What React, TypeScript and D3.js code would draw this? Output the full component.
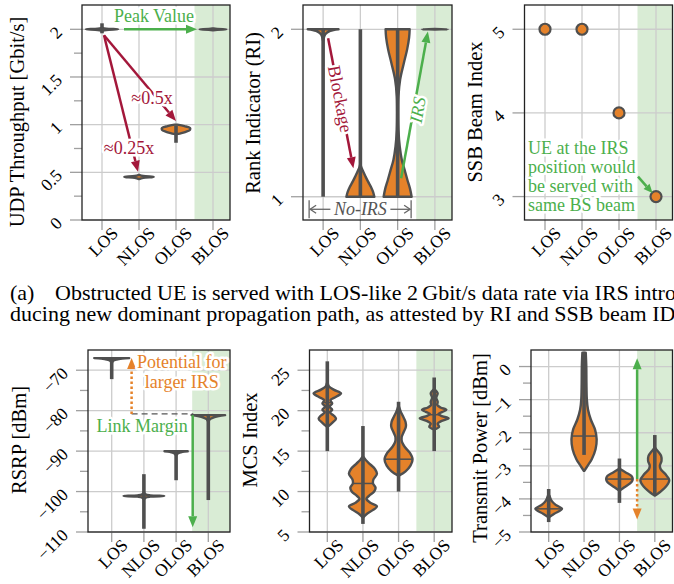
import React from "react";
import * as d3 from "d3";

const WIDTH = 674;
const HEIGHT = 584;
const SERIF = "'Liberation Serif', 'Times New Roman', Times, serif";

const ORANGE = "#e5822a";
const DARK = "#4f4f4f";
const GREEN = "#4caf4c";
const GREEN_BG = "#d9ecd5";
const CRIMSON = "#a3173a";
const GRID = "#cccccc";
const TICK = "#a0a0a0";

const CATEGORIES = ["LOS", "NLOS", "OLOS", "BLOS"];

// violin outlines: [value, relative half width]
const udpProfiles = [
  [[1.985, 0], [1.993, 0.3], [2.0, 1.15], [2.007, 0.3], [2.015, 0]],
  [[0.43, 0], [0.442, 0.3], [0.452, 1.05], [0.462, 0.3], [0.474, 0]],
  [[0.9, 0.05], [0.925, 0.7], [0.945, 1.0], [0.965, 1.0], [0.985, 0.6], [1.0, 0.1]],
  [[1.99, 0], [1.996, 0.3], [2.0, 0.95], [2.004, 0.3], [2.01, 0]],
];
const udpWhiskers = [[1.958, 2.063], null, [0.81, 0.99], [1.985, 2.015]];

const riProfiles = [
  [[1.93, 0], [1.97, 0.15], [1.99, 0.5], [2.0, 1.1]],
  [[1.0, 1.0], [1.03, 0.9], [1.06, 0.75], [1.09, 0.55], [1.12, 0.37], [1.15, 0.2], [1.18, 0.05], [1.2, 0]],
  [[1.0, 1.0], [1.05, 0.88], [1.1, 0.7], [1.16, 0.5], [1.22, 0.3], [1.3, 0.15], [1.4, 0.06], [1.5, 0.04],
    [1.6, 0.06], [1.7, 0.18], [1.8, 0.45], [1.88, 0.68], [1.95, 0.82], [2.0, 0.86]],
  [[1.998, 0], [2.0, 0.93], [2.002, 0]],
];
const riWhiskers = [[1, 2], [1, 2], [1, 2], null];

const ssbBeam = [5, 5, 4, 3];

const rsrpProfiles = [
  [[-68.2, 0.02], [-67.7, 0.1], [-67.35, 0.35], [-67.12, 0.75], [-67.0, 1.25]],
  [[-101.9, 0.02], [-101.5, 0.12], [-101.25, 0.45], [-101.1, 1.45], [-100.95, 0.45], [-100.7, 0.12], [-100.3, 0.02]],
  [[-91.0, 0.02], [-90.5, 0.15], [-90.2, 0.45], [-90.05, 0.83]],
  [[-82.6, 0.02], [-82.1, 0.12], [-81.7, 0.35], [-81.35, 0.75], [-81.1, 1.2]],
];
const rsrpWhiskers = [[-72.2, -67], [-109.2, -95.7], [-97.2, -90], [-102.1, -81.1]];

const mcsProfiles = [
  [[18.0, 0.02], [18.5, 0.35], [19.0, 0.62], [19.4, 0.45], [19.8, 0.18], [20.1, 0.35], [20.5, 0.15], [20.9, 0.35],
    [21.3, 0.22], [21.7, 0.6], [22.15, 0.98], [22.6, 0.45], [23.0, 0.12], [23.4, 0.03]],
  [[6.8, 0.02], [7.2, 0.25], [7.7, 0.7], [8.15, 1.0], [8.6, 0.55], [9.1, 0.25], [9.5, 0.45], [10.0, 0.8], [10.5, 0.9],
    [11.0, 0.72], [11.5, 0.75], [12.2, 1.0], [12.8, 0.85], [13.4, 0.5], [13.9, 0.2], [14.3, 0.02]],
  [[12.0, 0.05], [12.5, 0.5], [13.2, 0.85], [14.0, 1.0], [14.8, 0.8], [15.5, 0.45], [16.1, 0.25], [16.7, 0.22],
    [17.3, 0.35], [18.0, 0.52], [18.6, 0.5], [19.3, 0.32], [19.9, 0.15], [20.5, 0.03]],
  [[17.7, 0.02], [18.0, 0.35], [18.4, 0.25], [18.7, 0.5], [19.05, 1.03], [19.35, 0.5], [19.6, 0.3], [19.85, 0.6],
    [20.1, 0.87], [20.4, 0.45], [20.7, 0.22], [21.1, 0.25], [21.6, 0.15], [22.15, 0.25], [22.6, 0.05]],
];
const mcsWhiskers = [[15, 26.1], [6.0, 18.1], [10, 21.1], [15, 24.1]];
const mcsMedians = [21, 11, 14, 19.5];

const txProfiles = [
  [[-4.55, 0.02], [-4.45, 0.4], [-4.3, 0.95], [-4.18, 0.5], [-4.05, 0.2], [-3.9, 0.05]],
  [[-3.15, 0.02], [-3.0, 0.25], [-2.8, 0.55], [-2.5, 0.82], [-2.2, 0.9], [-1.9, 0.78], [-1.6, 0.48], [-1.3, 0.28],
    [-1.0, 0.2], [-0.5, 0.17], [0.0, 0.16], [0.42, 0.12]],
  [[-3.75, 0.02], [-3.65, 0.35], [-3.5, 0.85], [-3.4, 0.95], [-3.3, 0.85], [-3.2, 0.45], [-3.1, 0.05]],
  [[-3.9, 0.02], [-3.8, 0.35], [-3.6, 0.85], [-3.43, 1.03], [-3.25, 0.75], [-3.1, 0.42], [-3.0, 0.36], [-2.85, 0.48],
    [-2.7, 0.45], [-2.55, 0.2], [-2.45, 0.02]],
];
const txWhiskers = [[-4.7, -3.7], [-2.67, 0.4], [-4.12, -2.78], [-3.9, -2.07]];
const txMedians = [-4.3, -2.1, -3.4, -3.4];

const CAPTION_1A = "(a)";
const CAPTION_1B = "Obstructed UE is served with LOS-like 2\u2009Gbit/s data rate via IRS intro-";
const CAPTION_2 = "ducing new dominant propagation path, as attested by RI and SSB beam IDs.";

const fmt = d3.format("");

function Arrow({ x1, y1, x2, y2, color, width = 2.5, dash, head = 11, headW = 9 }: any) {
  const a = Math.atan2(y2 - y1, x2 - x1);
  const bx = x2 - head * Math.cos(a);
  const by = y2 - head * Math.sin(a);
  const px = (-Math.sin(a) * headW) / 2;
  const py = (Math.cos(a) * headW) / 2;
  return (
    <g>
      <line x1={x1} y1={y1} x2={bx} y2={by} stroke={color} strokeWidth={width} strokeDasharray={dash} />
      <polygon points={`${x2},${y2} ${bx + px},${by + py} ${bx - px},${by - py}`} fill={color} />
    </g>
  );
}

function Halo({ children, ...rest }: any) {
  return (
    <text stroke="white" strokeWidth={5} strokeLinejoin="round" paintOrder="stroke" fontSize={18} {...rest}>
      {children}
    </text>
  );
}

function Violin({ cx, y, hw, profile, whisker, median }: any) {
  const shape = d3
    .area<number[]>()
    .y((d) => y(d[0]))
    .x0((d) => cx - hw(d[1]))
    .x1((d) => cx + hw(d[1]))
    .curve(d3.curveCatmullRom.alpha(0.5));
  let mw = 0;
  if (median != null) {
    for (let i = 1; i < profile.length; i++) {
      const [a, wa] = profile[i - 1];
      const [b, wb] = profile[i];
      if (median >= a && median <= b) {
        mw = wa + ((wb - wa) * (median - a)) / (b - a || 1);
        break;
      }
    }
  }
  return (
    <g>
      <path d={shape(profile) || ""} fill={ORANGE} stroke={DARK} strokeWidth={2.4} strokeLinejoin="round" />
      {whisker && (
        <line x1={cx} x2={cx} y1={y(whisker[0])} y2={y(whisker[1])} stroke={DARK} strokeWidth={3.6} />
      )}
      {median != null && (
        <line x1={cx - hw(mw)} x2={cx + hw(mw)} y1={y(median)} y2={y(median)} stroke={DARK} strokeWidth={1.5} />
      )}
    </g>
  );
}

function Panel({ spec, render }: any) {
  const { left, right, top, bottom, domain, pad, shift, ticks, minor, label, labelX, labelY } = spec;
  const x = d3.scalePoint<string>().domain(CATEGORIES).range([left + shift, right + shift]).padding(pad);
  const y = d3.scaleLinear().domain(domain).range([bottom, top]);
  const hw = d3.scaleLinear().domain([0, 1]).range([0, 14]);
  const shadeX = ((x("OLOS") as number) + (x("BLOS") as number)) / 2;
  return (
    <g>
      <rect x={shadeX} y={top} width={right - shadeX} height={bottom - top} fill={GREEN_BG} />
      {CATEGORIES.map((c) => (
        <g key={c}>
          <line x1={x(c)} x2={x(c)} y1={top} y2={bottom} stroke={GRID} strokeWidth={1.3} />
          <line x1={x(c)} x2={x(c)} y1={bottom} y2={bottom + 10} stroke={TICK} strokeWidth={1.3} />
          <text
            transform={`translate(${(x(c) as number) + 13},${bottom + 10}) rotate(-45)`}
            textAnchor="end"
            dominantBaseline="central"
            fontSize={17.5}
          >
            {c}
          </text>
        </g>
      ))}
      {ticks.map((t: number) => (
        <g key={t}>
          <line x1={left} x2={right} y1={y(t)} y2={y(t)} stroke={GRID} strokeWidth={1.3} />
          <line x1={left - 12} x2={left} y1={y(t)} y2={y(t)} stroke={TICK} strokeWidth={1.3} />
          <text
            transform={`translate(${left - 23},${y(t)}) rotate(-45)`}
            textAnchor="end"
            dominantBaseline="central"
            fontSize={17.5}
          >
            {fmt(t)}
          </text>
        </g>
      ))}
      {minor.map((t: number) => (
        <line key={t} x1={left - 8} x2={left} y1={y(t)} y2={y(t)} stroke={TICK} strokeWidth={1.3} />
      ))}
      <rect x={left} y={top} width={right - left} height={bottom - top} fill="none" stroke="#222" strokeWidth={1.3} />
      <text
        transform={`translate(${labelX},${labelY}) rotate(-90)`}
        textAnchor="middle"
        dominantBaseline="central"
        fontSize={20.5}
      >
        {label}
      </text>
      {render(x, y, hw)}
    </g>
  );
}

const SPECS = {
  udp: { left: 82, right: 230, top: 5, bottom: 220, domain: [0, 2.255], pad: 0.5, shift: 1.5,
    ticks: [0, 0.5, 1, 1.5, 2], minor: [0.25, 0.75, 1.25, 1.75], label: "UDP Throughput [Gbit/s]", labelX: 17, labelY: 122 },
  ri: { left: 303, right: 452, top: 5, bottom: 220, domain: [0.861, 2.145], pad: 0.5, shift: 1.5,
    ticks: [1, 2], minor: [], label: "Rank Indicator (RI)", labelX: 253, labelY: 113 },
  ssb: { left: 524.5, right: 672.5, top: 5, bottom: 220, domain: [2.72, 5.29], pad: 0.5, shift: 2,
    ticks: [3, 4, 5], minor: [], label: "SSB Beam Index", labelX: 475, labelY: 112 },
  rsrp: { left: 88, right: 230, top: 350, bottom: 532, domain: [-110, -65], pad: 0.705, shift: 1,
    ticks: [-110, -100, -90, -80, -70], minor: [-105, -95, -85, -75], label: "RSRP [dBm]", labelX: 18.5, labelY: 440 },
  mcs: { left: 309.5, right: 452, top: 350, bottom: 532, domain: [5, 27.5], pad: 0.5, shift: 0,
    ticks: [5, 10, 15, 20, 25], minor: [7.5, 12.5, 17.5, 22.5], label: "MCS Index", labelX: 250, labelY: 440 },
  tx: { left: 531, right: 672.5, top: 350, bottom: 532, domain: [-5, 0.5], pad: 0.5, shift: 0,
    ticks: [-5, -4, -3, -2, -1, 0], minor: [-4.5, -3.5, -2.5, -1.5, -0.5], label: "Transmit Power [dBm]", labelX: 479.5, labelY: 448 },
};

function violins(profiles: any[], whiskers: any[], medians: any[] | null) {
  return (x: any, y: any, hw: any) =>
    CATEGORIES.map((c, i) => (
      <Violin key={c} cx={x(c)} y={y} hw={hw} profile={profiles[i]} whisker={whiskers[i]}
        median={medians ? medians[i] : null} />
    ));
}

export default function App() {
  return (
    <svg width={WIDTH} height={HEIGHT} fontFamily={SERIF}
      style={{ position: "absolute", left: 0, top: 0, background: "white" }}>
      <Panel
        spec={SPECS.udp}
        render={(x: any, y: any, hw: any) => (
          <g>
            {violins(udpProfiles, udpWhiskers, null)(x, y, hw)}
            <Arrow x1={x("LOS") + 22} y1={y(2)} x2={x("BLOS") - 16} y2={y(2)} color={GREEN} />
            <Halo x={x("NLOS") + 15} y={y(2) - 7} textAnchor="middle" fill={GREEN}>Peak Value</Halo>
            <Arrow x1={x("LOS") + 2} y1={y(2) + 6} x2={x("NLOS") - 1} y2={y(0.454) - 5} color={CRIMSON} />
            <Arrow x1={x("LOS") + 2} y1={y(2) + 6} x2={x("OLOS")} y2={y(0.955) - 8} color={CRIMSON} />
            <Halo x={x("NLOS") + 13} y={y(1.276)} textAnchor="middle" dominantBaseline="central" fill={CRIMSON}>≈0.5x</Halo>
            <Halo x={x("LOS") + 27} y={y(0.76)} textAnchor="middle" dominantBaseline="central" fill={CRIMSON}>≈0.25x</Halo>
          </g>
        )}
      />
      <Panel
        spec={SPECS.ri}
        render={(x: any, y: any, hw: any) => {
          const by = y(0.925);
          const bl = x("LOS") - 14;
          const br = x("OLOS") + 13.5;
          const cm = x("NLOS");
          return (
            <g>
              {violins(riProfiles, riWhiskers, null)(x, y, hw)}
              <Arrow x1={x("LOS") + 5} y1={y(2) + 9} x2={x("NLOS") - 7} y2={y(1.17)} color={CRIMSON} />
              <Halo transform={`translate(${x("LOS") + 17},${y(1.584)}) rotate(79)`} textAnchor="middle"
                dominantBaseline="central" fill={CRIMSON}>Blockage</Halo>
              <Arrow x1={x("OLOS") + 3.5} y1={y(1.11)} x2={x("BLOS") - 7} y2={y(1.986)} color={GREEN} />
              <Halo transform={`translate(${(x("OLOS") + x("BLOS")) / 2 + 1.5},${y(1.518)}) rotate(-80)`}
                textAnchor="middle" dominantBaseline="central" fill={GREEN} fontStyle="italic">IRS</Halo>
              <g stroke="#666" strokeWidth={1.3} fill="none">
                <line x1={bl} x2={bl} y1={by - 9} y2={by + 9} />
                <line x1={br} x2={br} y1={by - 9} y2={by + 9} />
                <line x1={cm - 30} x2={bl + 1} y1={by} y2={by} />
                <line x1={cm + 30} x2={br - 1} y1={by} y2={by} />
                <polyline points={`${bl + 7},${by - 4} ${bl + 1},${by} ${bl + 7},${by + 4}`} />
                <polyline points={`${br - 7},${by - 4} ${br - 1},${by} ${br - 7},${by + 4}`} />
              </g>
              <text x={cm} y={by} textAnchor="middle" dominantBaseline="central" fontSize={18}
                fontStyle="italic" fill="#555">No-IRS</text>
            </g>
          );
        }}
      />
      <Panel
        spec={SPECS.ssb}
        render={(x: any, y: any) => (
          <g>
            {CATEGORIES.map((c, i) => (
              <circle key={c} cx={x(c)} cy={y(ssbBeam[i])} r={5.5} fill={ORANGE} stroke={DARK} strokeWidth={2.2} />
            ))}
            <Halo x={x("LOS") - 17} y={y(3) - 43} fill={GREEN}>
              {["UE at the IRS", "position would", "be served with", "same BS beam"].map((s, i) => (
                <tspan key={i} x={x("LOS") - 17} dy={i === 0 ? 0 : 19}>{s}</tspan>
              ))}
            </Halo>
            <Arrow x1={x("BLOS") - 18} y1={y(3) - 20} x2={x("BLOS") - 3.5} y2={y(3) - 3.5} color={GREEN}
              width={2.5} head={9} headW={8} />
          </g>
        )}
      />
      <Panel
        spec={SPECS.rsrp}
        render={(x: any, y: any, hw: any) => {
          const mid = (x("OLOS") + x("BLOS")) / 2 + 0.5;
          const ax = x("NLOS") - 12.3;
          return (
            <g>
              {violins(rsrpProfiles, rsrpWhiskers, null)(x, y, hw)}
              <line x1={ax} x2={x("BLOS") - 15} y1={y(-80.8)} y2={y(-80.8)} stroke="#555" strokeWidth={1.3}
                strokeDasharray="6,4" />
              <Arrow x1={ax} y1={y(-80.8)} x2={ax} y2={y(-67)} color={ORANGE} dash="2.5,2.5" />
              <Halo textAnchor="middle" fill={ORANGE}>
                <tspan x={x("OLOS") + 5.7} y={y(-69.5)}>Potential for</tspan>
                <tspan x={x("OLOS") + 5.7} dy={20}>larger IRS</tspan>
              </Halo>
              <Arrow x1={mid} y1={y(-81.1)} x2={mid} y2={y(-108.8)} color={GREEN} />
              <Halo x={mid - 5} y={y(-85.3)} textAnchor="end" fill={GREEN}>Link Margin</Halo>
            </g>
          );
        }}
      />
      <Panel spec={SPECS.mcs} render={violins(mcsProfiles, mcsWhiskers, mcsMedians)} />
      <Panel
        spec={SPECS.tx}
        render={(x: any, y: any, hw: any) => {
          const mid = (x("OLOS") + x("BLOS")) / 2;
          return (
            <g>
              {violins(txProfiles, txWhiskers, txMedians)(x, y, hw)}
              <Arrow x1={mid} y1={y(-3.4)} x2={mid} y2={y(0.25)} color={GREEN} />
              <Arrow x1={mid} y1={y(-3.4)} x2={mid} y2={y(-4.62)} color={ORANGE} dash="2.5,2.5" />
            </g>
          );
        }}
      />
      <g fontSize={22}>
        <text x={10} y={300}>{CAPTION_1A}</text>
        <text x={55} y={300}>{CAPTION_1B}</text>
        <text x={10} y={321}>{CAPTION_2}</text>
      </g>
    </svg>
  );
}
